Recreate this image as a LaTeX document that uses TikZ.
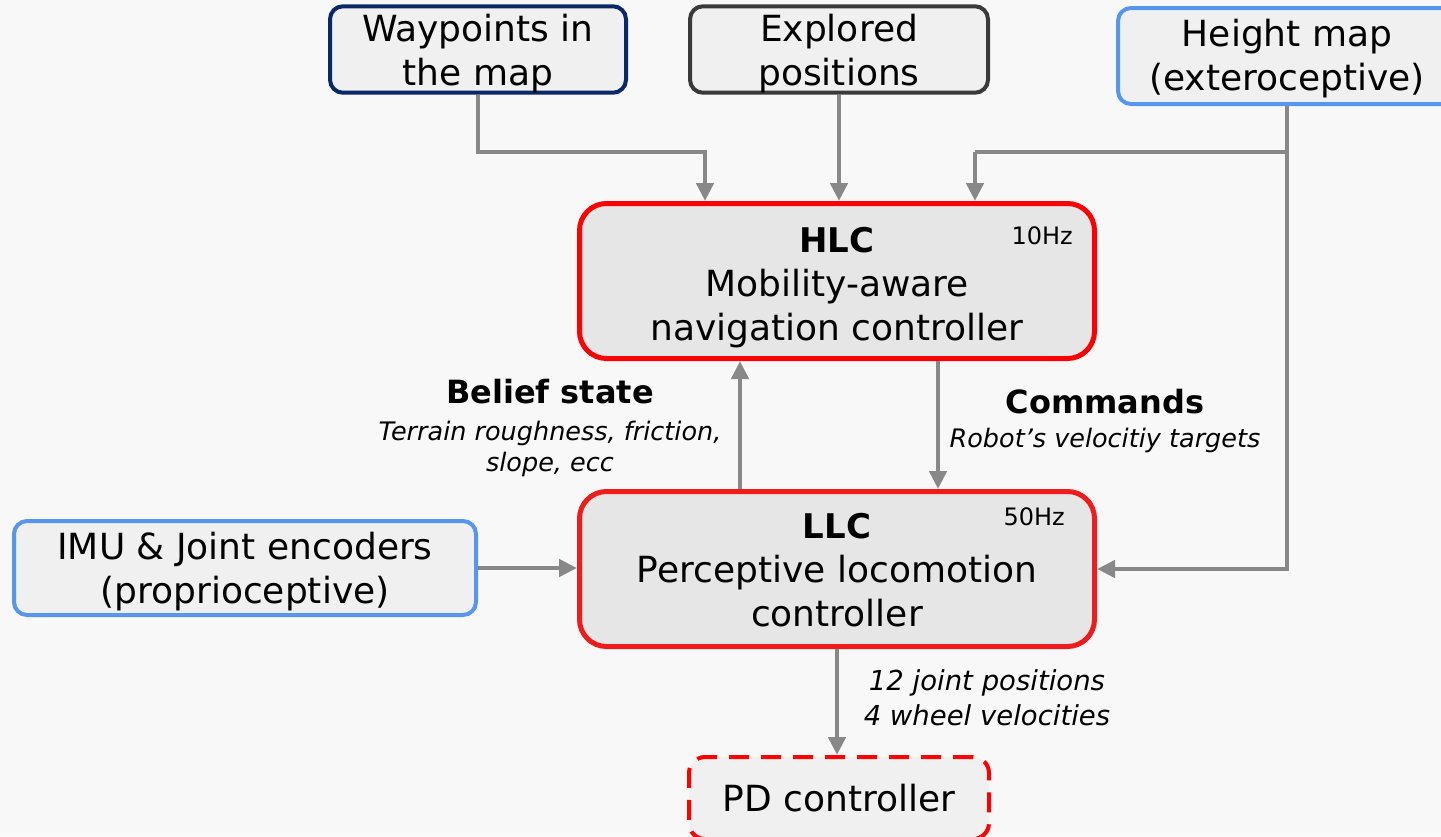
\documentclass[tikz,border=0pt]{standalone}
\usepackage{fontspec}
\setmainfont{DejaVu Sans}
\usetikzlibrary{arrows.meta}

\definecolor{bgcol}{HTML}{F8F8F8}
\definecolor{boxfill}{HTML}{F0F0F0}
\definecolor{ctrlfill}{HTML}{E6E6E6}
\definecolor{navy}{HTML}{0A2766}
\definecolor{darkedge}{HTML}{3A3A3A}
\definecolor{skyedge}{HTML}{5796EE}
\definecolor{hlcred}{HTML}{FF0000}
\definecolor{llcred}{HTML}{EE1C1C}
\definecolor{wire}{HTML}{888888}

% invisible strut that pushes a multi-line label slightly downwards
\newcommand{\toppad}[1]{\rule{0pt}{#1}}

\tikzset{
  x=1pt, y=-1pt,
  txt/.style={font=\fontsize{36}{44}\selectfont, align=center, text=black},
  inbox/.style={txt, draw, line width=4pt, fill=boxfill, rounded corners=13pt,
                inner sep=0pt},
  ctrlbox/.style={txt, draw, line width=5pt, fill=ctrlfill, rounded corners=27pt,
                  inner sep=0pt, minimum width=515pt, minimum height=155pt},
  hz/.style={font=\fontsize{24}{28}\selectfont, text=black, inner sep=0pt},
  boldlbl/.style={font=\fontsize{32}{36}\bfseries\selectfont, inner sep=0pt},
  itlbl/.style={font=\fontsize{25.5}{31}\itshape\selectfont, align=center, inner sep=0pt},
  conn/.style={draw=wire, line width=4.5pt,
               -{Triangle[length=18pt,width=17pt]}},
  wireonly/.style={draw=wire, line width=4.5pt},
}

\begin{document}
\begin{tikzpicture}
  % canvas
  \fill[bgcol] (0,0) rectangle (1441,836);
  \useasboundingbox (0,0) rectangle (1441,836);
  \clip (0,0) rectangle (1441,836);

  % input sources
  \node[inbox, draw=navy, minimum width=296pt, minimum height=83pt]
    (wp) at (478,49.5) {\toppad{35pt}Waypoints in\\the map};
  \node[inbox, draw=darkedge, minimum width=298pt, minimum height=83pt]
    (ex) at (839,49.5) {\toppad{35pt}Explored\\positions};
  \node[inbox, draw=skyedge, minimum width=338pt, minimum height=96pt]
    (hm) at (1287,56) {\toppad{33pt}Height map\\(exteroceptive)};
  \node[inbox, draw=skyedge, minimum width=462pt, minimum height=94pt]
    (imu) at (245,568) {\toppad{35pt}IMU \& Joint encoders\\(proprioceptive)};

  % controllers
  \node[ctrlbox, draw=hlcred] (hlc) at (837,281)
    {\toppad{38pt}{\fontsize{34}{44}\bfseries\selectfont HLC}\\Mobility-aware\\navigation controller};
  \node[hz, anchor=north east] (hlchz) at (1073,226) {10Hz};

  \node[ctrlbox, draw=llcred] (llc) at (837,569)
    {\toppad{28pt}{\fontsize{34}{44}\bfseries\selectfont LLC}\\Perceptive locomotion\\controller};
  \node[hz, anchor=north east] (llchz) at (1065,507) {50Hz};

  \node[inbox, draw=hlcred, dash pattern=on 20pt off 12pt, rounded corners=16pt,
        minimum width=300pt, minimum height=82pt] (pd) at (839,798) {PD controller};

  % junction points of the wiring
  \coordinate (jw) at (705,152);
  \coordinate (jb) at (975,152);
  \coordinate (cup) at (740,425);
  \coordinate (cdown) at (938,425);

  % wiring into the HLC
  \draw[conn] (wp.south) |- (jw) -- (jw |- hlc.north);
  \draw[conn] (ex.south) -- (ex.south |- hlc.north);
  \draw[wireonly] (hm.south |- jb) -- (jb);
  \draw[conn] (jb) -- (jb |- hlc.north);
  \draw[conn] (hm.south) |- (llc.east);

  % exchange between the two controllers
  \draw[conn] (cup |- llc.north) -- (cup |- hlc.south);
  \draw[conn] (cdown |- hlc.south) -- (cdown |- llc.north);

  % proprioception and output
  \draw[conn] (imu.east) -- (imu.east -| llc.west);
  \draw[conn] (llc.south) -- (llc.south |- pd.north);

  % connector labels
  \node[boldlbl] (belief) at (550,392) {Belief state};
  \node[itlbl] (beliefsub) at (550,449) {Terrain roughness, friction,\\slope, ecc};
  \node[boldlbl] (cmd) at (1105,402) {Commands};
  \node[itlbl] (cmdsub) at (1105,440) {Robot’s velocitiy targets};
  \node[itlbl, font=\fontsize{27.5}{35}\itshape\selectfont] (outsub) at (987,698)
    {12 joint positions\\4 wheel velocities};
\end{tikzpicture}
\end{document}
